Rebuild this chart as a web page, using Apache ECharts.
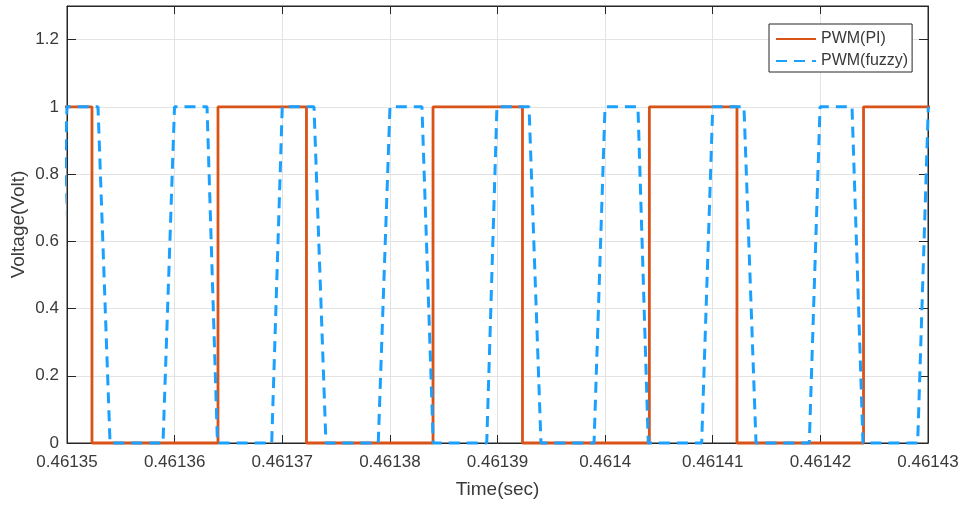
<!DOCTYPE html>
<html>
<head>
<meta charset="utf-8">
<script src="https://cdn.jsdelivr.net/npm/echarts@6/dist/echarts.min.js"></script>
<style>
html,body{margin:0;padding:0;background:#fff;}
#chart{width:963px;height:506px;}
</style>
</head>
<body>
<div id="chart"></div>
<script>
// PWM(PI) — step waveform (time in seconds, value in volts)
const piTime = [0.46134954, 0.46135232, 0.46135232, 0.46136403, 0.46136403, 0.46137225, 0.46137225,
  0.46138401, 0.46138401, 0.46139232, 0.46139232, 0.46140411, 0.46140411, 0.46141225, 0.46141225,
  0.46142401, 0.46142401, 0.46143037];
const piVolt = [1, 1, 0, 0, 1, 1, 0, 0, 1, 1, 0, 0, 1, 1, 0, 0, 1, 1];

// PWM(fuzzy) — trapezoid-like waveform
const fuzzyTime = [0.46134956, 0.46135000, 0.46135288, 0.46135400, 0.46135892, 0.46135999,
  0.46136301, 0.46136398, 0.46136902, 0.46137000, 0.46137295, 0.46137406, 0.46137892, 0.46138001,
  0.46138298, 0.46138403, 0.46138900, 0.46138995, 0.46139293, 0.46139404, 0.46139897, 0.46139999,
  0.46140305, 0.46140401, 0.46140897, 0.46141000, 0.46141290, 0.46141402, 0.46141897, 0.46141997,
  0.46142294, 0.46142396, 0.46142904, 0.46143003];
const fuzzyVolt = [0.55, 1, 1, 0, 0, 1, 1, 0, 0, 1, 1, 0, 0, 1, 1, 0, 0, 1, 1, 0, 0, 1, 1, 0, 0, 1, 1, 0, 0, 1, 1, 0, 0, 1];

const xMin = 0.46135, xMax = 0.46143, xStep = 0.00001;
const yMin = 0, yMax = 1.3, yStep = 0.2;
const seriesNames = ['PWM(PI)', 'PWM(fuzzy)'];
const xTitle = 'Time(sec)';
const yTitle = 'Voltage(Volt)';

const FONT = 'Liberation Sans, Arial, Helvetica, sans-serif';
const AX = '#262626';
const TXT = '#3a3a3a';

const chart = echarts.init(document.getElementById('chart'), null, {renderer: 'canvas'});

const xCommon = {
  type: 'value', min: xMin, max: xMax, interval: xStep,
  axisLine: {show: true, onZero: false, lineStyle: {color: AX, width: 1}},
  axisTick: {show: true, inside: true, length: 8, lineStyle: {color: AX}},
};
const yCommon = {
  type: 'value', min: yMin, max: yMax, interval: yStep,
  axisLine: {show: true, onZero: false, lineStyle: {color: AX, width: 1}},
  axisTick: {show: true, inside: true, length: 9, lineStyle: {color: AX}},
};

chart.setOption({
  animation: false,
  backgroundColor: '#fff',
  grid: {left: 67, right: 35, top: 6, bottom: 63, show: true, borderColor: AX, borderWidth: 1,
    containLabel: false, outerBoundsMode: 'none'},
  legend: {
    orient: 'vertical', left: 769, top: 24,
    padding: [7, 4, 3, 6], itemGap: 6, itemWidth: 40, itemHeight: 14,
    backgroundColor: '#fff', borderColor: AX, borderWidth: 1, borderRadius: 0,
    itemStyle: {opacity: 0},
    textStyle: {fontFamily: FONT, fontSize: 16, color: TXT},
    data: seriesNames
  },
  xAxis: [
    Object.assign({}, xCommon, {
      position: 'bottom',
      name: xTitle, nameLocation: 'middle', nameGap: 37, nameMoveOverlap: false,
      nameTextStyle: {fontFamily: FONT, fontSize: 19, color: TXT},
      axisLabel: {margin: 11, fontFamily: FONT, fontSize: 17, color: TXT,
        formatter: v => String(+(+v).toFixed(5))},
      splitLine: {show: true, lineStyle: {color: '#e3e3e3', width: 1}}
    }),
    Object.assign({}, xCommon, {
      position: 'top', axisLabel: {show: false}, splitLine: {show: false}
    })
  ],
  yAxis: [
    Object.assign({}, yCommon, {
      position: 'left',
      name: yTitle, nameLocation: 'middle', nameGap: 39, nameMoveOverlap: false,
      nameTextStyle: {fontFamily: FONT, fontSize: 19, color: TXT},
      axisLabel: {margin: 8, fontFamily: FONT, fontSize: 17, color: TXT, showMaxLabel: false,
        formatter: v => (Math.abs(v - yMax) < 1e-9 ? '' : String(+(+v).toFixed(1)))},
      splitLine: {show: true, lineStyle: {color: '#e3e3e3', width: 1}}
    }),
    Object.assign({}, yCommon, {
      position: 'right', axisLabel: {show: false}, splitLine: {show: false}
    })
  ],
  series: [
    {
      name: seriesNames[0], type: 'line', xAxisIndex: 0, yAxisIndex: 0,
      data: piTime.map((t, i) => [t, piVolt[i]]),
      showSymbol: false, symbol: 'none', clip: false,
      lineStyle: {color: '#D95319', width: 2.8, type: 'solid'},
      itemStyle: {color: '#D95319'}
    },
    {
      name: seriesNames[1], type: 'line', xAxisIndex: 0, yAxisIndex: 0,
      data: fuzzyTime.map((t, i) => [t, fuzzyVolt[i]]),
      showSymbol: false, symbol: 'none', clip: false,
      lineStyle: {color: '#1AA0FF', width: 3, type: [11, 7]},
      itemStyle: {color: '#1AA0FF'}
    }
  ]
});
</script>
</body>
</html>
